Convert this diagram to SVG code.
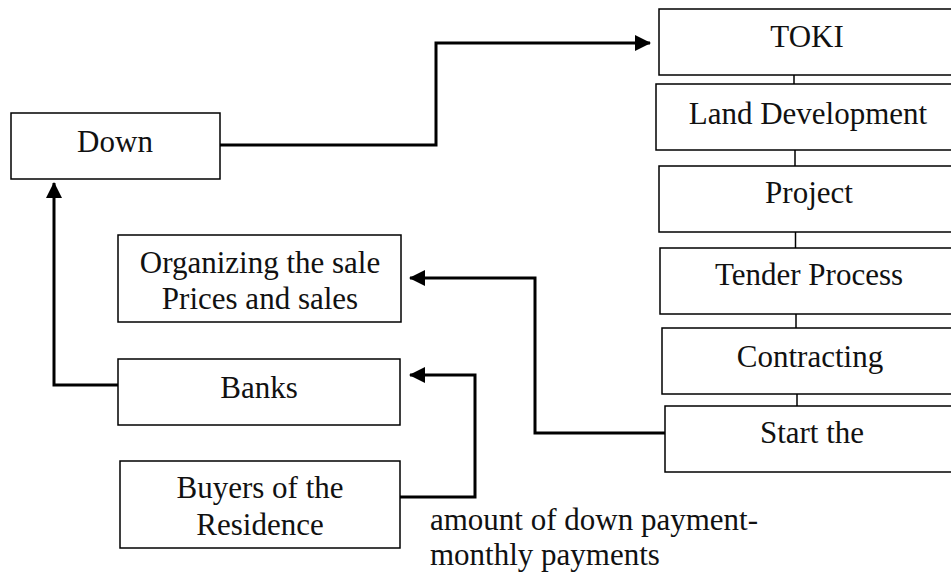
<svg xmlns="http://www.w3.org/2000/svg" width="951" height="573" viewBox="0 0 951 573">
<style>
.box{fill:#fff;stroke:#000;stroke-width:1.5}
.t{font-family:"Liberation Serif","Times New Roman",serif;font-size:31px;fill:#111;text-anchor:middle}
.tl{font-family:"Liberation Serif","Times New Roman",serif;font-size:31px;fill:#111}
.c{fill:none;stroke:#000;stroke-width:3}
.thin{fill:none;stroke:#000;stroke-width:1.5}
</style>
<defs>
<marker id="ah" markerUnits="userSpaceOnUse" markerWidth="16" markerHeight="16" viewBox="0 0 16 16" refX="15" refY="8" orient="auto">
<polygon points="0,0 16,8 0,16" fill="#000"/>
</marker>
</defs>
<rect width="951" height="573" fill="#fff"/>
<g id="connectors">
<polyline class="c" points="220,145 436,145 436,43 650,43" marker-end="url(#ah)"/>
<polyline class="c" points="118,385 54,385 54,183" marker-end="url(#ah)"/>
<polyline class="c" points="665,433 535,433 535,278 410,278" marker-end="url(#ah)"/>
<polyline class="c" points="400,497 475,497 475,375 410,375" marker-end="url(#ah)"/>
<line class="thin" x1="794" y1="75" x2="794" y2="84"/>
<line class="thin" x1="795" y1="150" x2="795" y2="166"/>
<line class="thin" x1="795.5" y1="232" x2="795.5" y2="248"/>
<line class="thin" x1="796" y1="314" x2="796" y2="328"/>
<line class="thin" x1="797" y1="394" x2="797" y2="406"/>
</g>
<g id="down"><rect class="box" x="11" y="113" width="209" height="66"/><text class="t" x="115" y="152">Down</text></g>
<g id="toki"><rect class="box" x="659" y="9" width="300" height="66"/><text class="t" x="807" y="47">TOKI</text></g>
<g id="land"><rect class="box" x="656" y="84" width="300" height="66"/><text class="t" x="808" y="124">Land Development</text></g>
<g id="project"><rect class="box" x="659" y="166" width="300" height="66"/><text class="t" x="809" y="203">Project</text></g>
<g id="tender"><rect class="box" x="660" y="248" width="300" height="66"/><text class="t" x="809" y="285">Tender Process</text></g>
<g id="contracting"><rect class="box" x="662" y="328" width="300" height="66"/><text class="t" x="810" y="367">Contracting</text></g>
<g id="start"><rect class="box" x="665" y="406" width="300" height="66"/><text class="t" x="812" y="443">Start the</text></g>
<g id="organizing"><rect class="box" x="118" y="235" width="283" height="87"/><text class="t" x="260" y="273">Organizing the sale</text><text class="t" x="260" y="309">Prices and sales</text></g>
<g id="banks"><rect class="box" x="118" y="359" width="282" height="66"/><text class="t" x="259" y="398">Banks</text></g>
<g id="buyers"><rect class="box" x="120" y="461" width="280" height="87"/><text class="t" x="260" y="498">Buyers of the</text><text class="t" x="260" y="535">Residence</text></g>
<g id="label"><text class="tl" x="430" y="530">amount of down payment-</text><text class="tl" x="430" y="565">monthly payments</text></g>
</svg>
